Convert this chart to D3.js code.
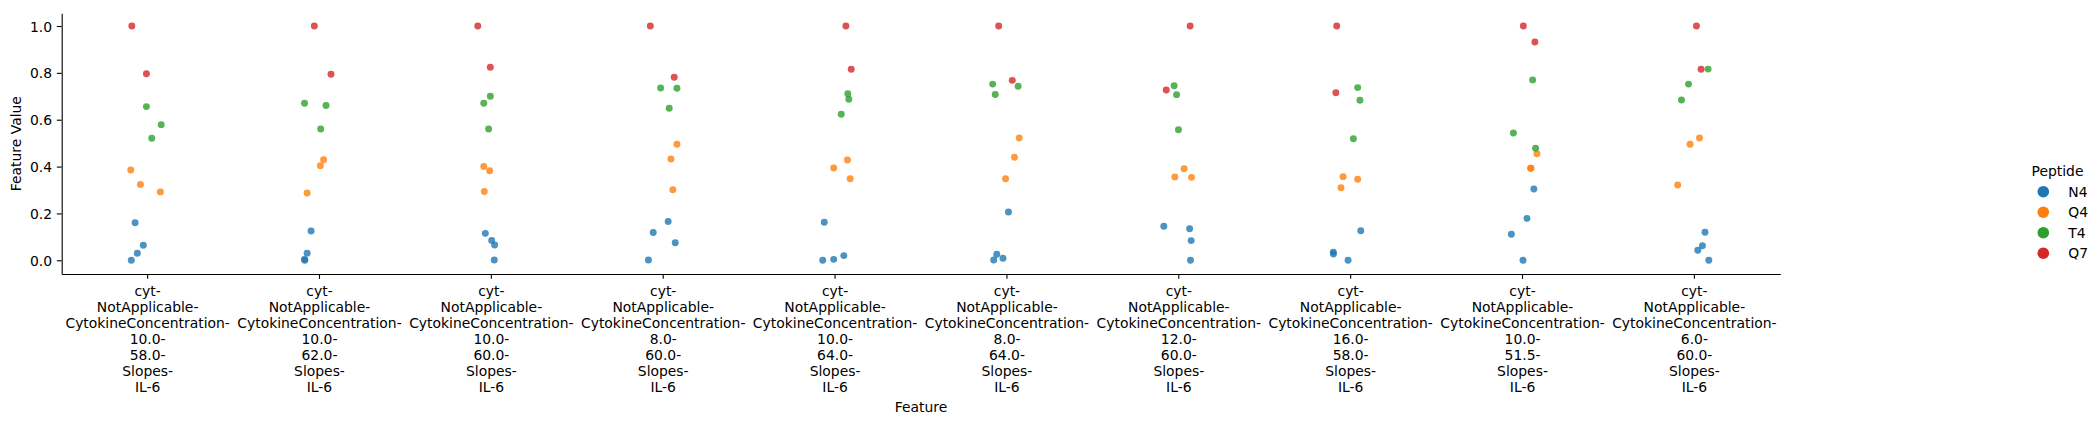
<!DOCTYPE html>
<html><head><meta charset="utf-8">
<script src="https://cdn.jsdelivr.net/npm/d3@7"></script>
<style>
body{margin:0;background:#fff}
svg text{font-family:"DejaVu Sans",sans-serif;}
</style>
</head><body>
<svg id="chart" width="2100" height="424"></svg>
<script>
// ---- data ----
const categories = [
  "cyt-\nNotApplicable-\nCytokineConcentration-\n10.0-\n58.0-\nSlopes-\nIL-6",
  "cyt-\nNotApplicable-\nCytokineConcentration-\n10.0-\n62.0-\nSlopes-\nIL-6",
  "cyt-\nNotApplicable-\nCytokineConcentration-\n10.0-\n60.0-\nSlopes-\nIL-6",
  "cyt-\nNotApplicable-\nCytokineConcentration-\n8.0-\n60.0-\nSlopes-\nIL-6",
  "cyt-\nNotApplicable-\nCytokineConcentration-\n10.0-\n64.0-\nSlopes-\nIL-6",
  "cyt-\nNotApplicable-\nCytokineConcentration-\n8.0-\n64.0-\nSlopes-\nIL-6",
  "cyt-\nNotApplicable-\nCytokineConcentration-\n12.0-\n60.0-\nSlopes-\nIL-6",
  "cyt-\nNotApplicable-\nCytokineConcentration-\n16.0-\n58.0-\nSlopes-\nIL-6",
  "cyt-\nNotApplicable-\nCytokineConcentration-\n10.0-\n51.5-\nSlopes-\nIL-6",
  "cyt-\nNotApplicable-\nCytokineConcentration-\n6.0-\n60.0-\nSlopes-\nIL-6"
];
const peptides = ["N4", "Q4", "T4", "Q7"];
const yTicks = [0.0, 0.2, 0.4, 0.6, 0.8, 1.0];

// values per category for each peptide
const valuesN4 = [
  [0.160, 0.064, 0.030, 0.000], [0.125, 0.030, 0.004, 0.000], [0.115, 0.085, 0.065, 0.001],
  [0.166, 0.119, 0.075, 0.001], [0.162, 0.020, 0.004, 0.000], [0.206, 0.026, 0.009, 0.001],
  [0.145, 0.135, 0.084, 0.000], [0.126, 0.035, 0.027, 0.000], [0.304, 0.179, 0.111, 0.000],
  [0.120, 0.062, 0.043, 0.000]
];
const valuesQ4 = [
  [0.385, 0.324, 0.292], [0.429, 0.404, 0.287], [0.400, 0.382, 0.294], [0.495, 0.432, 0.301],
  [0.428, 0.394, 0.348], [0.522, 0.440, 0.348], [0.391, 0.356, 0.354], [0.357, 0.346, 0.310],
  [0.455, 0.393, 0.393], [0.522, 0.495, 0.321]
];
const valuesT4 = [
  [0.656, 0.579, 0.521], [0.670, 0.661, 0.560], [0.700, 0.670, 0.560], [0.735, 0.734, 0.649],
  [0.711, 0.687, 0.623], [0.752, 0.743, 0.708], [0.745, 0.707, 0.557], [0.737, 0.683, 0.519],
  [0.770, 0.543, 0.478], [0.816, 0.752, 0.684]
];
const valuesQ7 = [
  [1.0, 0.796], [1.0, 0.794], [1.0, 0.824], [1.0, 0.781], [1.0, 0.815],
  [1.0, 0.768], [1.0, 0.727], [1.0, 0.715], [1.0, 0.932], [1.0, 0.815]
];
// strip jitter offsets (fraction of category width)
const jitterN4 = [
  [-0.073, -0.025, -0.060, -0.095], [-0.049, -0.072, -0.088, -0.085], [-0.035, 0.002, 0.019, 0.017],
  [0.029, -0.058, 0.070, -0.086], [-0.063, 0.051, -0.008, -0.072], [0.009, -0.059, -0.023, -0.077],
  [-0.087, 0.063, 0.072, 0.068], [0.059, -0.101, -0.100, -0.015], [0.066, 0.026, -0.065, 0.003],
  [0.062, 0.047, 0.020, 0.084]
];
const jitterQ4 = [
  [-0.098, -0.042, 0.074], [0.024, 0.005, -0.072], [-0.044, -0.010, -0.041], [0.080, 0.045, 0.056],
  [0.072, -0.008, 0.088], [0.071, 0.044, -0.008], [0.031, -0.023, 0.074], [-0.044, 0.041, -0.056],
  [0.084, 0.049, 0.047], [0.030, -0.025, -0.097]
];
const jitterT4 = [
  [-0.007, 0.079, 0.024], [-0.087, 0.038, 0.007], [-0.006, -0.044, -0.016], [-0.015, 0.080, 0.035],
  [0.074, 0.080, 0.036], [-0.083, 0.065, -0.068], [-0.027, -0.013, -0.002], [0.041, 0.054, 0.016],
  [0.059, -0.053, 0.076], [0.080, -0.034, -0.075]
];
const jitterQ7 = [
  [-0.092, -0.007], [-0.030, 0.067], [-0.079, -0.006], [-0.075, 0.064], [0.063, 0.094],
  [-0.048, 0.031], [0.066, -0.073], [-0.081, -0.086], [0.005, 0.072], [0.012, 0.039]
];

const palette = ["#1f77b4", "#ff7f0e", "#2ca02c", "#d62728"];

// ---- layout ----
const FS = 13.9;
const plot = {left: 61.7, right: 1780.3, top: 13.3, bottom: 274};
const svg = d3.select("#chart");
svg.append("rect").attr("width", 2100).attr("height", 424).attr("fill", "#fff");

const x = d3.scaleBand().domain(d3.range(categories.length)).range([plot.left, plot.right]).padding(0);
const y = d3.scaleLinear().domain([-0.05847, 1.05420]).range([plot.bottom, plot.top]);
const color = d3.scaleOrdinal().domain(peptides).range(palette);

const allValues = [valuesN4, valuesQ4, valuesT4, valuesQ7];
const allJitter = [jitterN4, jitterQ4, jitterT4, jitterQ7];
const points = [];
categories.forEach((c, ci) => {
  peptides.forEach((p, pi) => {
    allValues[pi][ci].forEach((v, k) => {
      points.push({cat: ci, pep: p, v: v, j: allJitter[pi][ci][k]});
    });
  });
});

// points
svg.append("g").selectAll("circle").data(points).join("circle")
  .attr("cx", d => x(d.cat) + x.bandwidth() / 2 + d.j * x.bandwidth())
  .attr("cy", d => y(d.v))
  .attr("r", 3.47)
  .attr("fill", d => color(d.pep))
  .attr("fill-opacity", 0.8);

// y axis
const gy = svg.append("g").attr("transform", `translate(${plot.left},0)`)
  .call(d3.axisLeft(y).tickValues(yTicks).tickFormat(d3.format(".1f"))
    .tickSize(4.86).tickPadding(4.86).tickSizeOuter(0));
gy.attr("font-family", null).attr("font-size", null);
gy.selectAll("path.domain").attr("stroke", "#000").attr("stroke-width", 1.11);
gy.selectAll(".tick line").attr("stroke", "#000").attr("stroke-width", 1.11);
gy.selectAll(".tick text").attr("font-size", FS).attr("fill", "#000").attr("dy", "0.36em");

// x axis
const gx = svg.append("g").attr("transform", `translate(0,${plot.bottom})`)
  .call(d3.axisBottom(x).tickSize(4.86).tickSizeOuter(0).tickFormat(i => categories[i]));
gx.attr("font-family", null).attr("font-size", null);
gx.selectAll("path.domain").attr("stroke", "#000").attr("stroke-width", 1.11);
gx.selectAll(".tick line").attr("stroke", "#000").attr("stroke-width", 1.11);
gx.selectAll(".tick text").each(function(i) {
  const t = d3.select(this);
  t.text(null).attr("dy", null).attr("y", null).attr("font-size", FS).attr("fill", "#000");
  categories[i].split("\n").forEach((line, k) => {
    t.append("tspan").attr("x", 0).attr("y", 21.7 + 16.1 * k).text(line);
  });
});

// axis titles
svg.append("text").attr("x", (plot.left + plot.right) / 2).attr("y", 411.7)
  .attr("text-anchor", "middle").attr("font-size", FS).attr("fill", "#000").text("Feature");
svg.append("text").attr("transform", `translate(21,${(plot.top + plot.bottom) / 2}) rotate(-90)`)
  .attr("text-anchor", "middle").attr("font-size", FS).attr("fill", "#000").text("Feature Value");

// legend
const lg = svg.append("g");
lg.append("text").attr("x", 2057.5).attr("y", 175.5).attr("text-anchor", "middle")
  .attr("font-size", FS).attr("fill", "#000").text("Peptide");
peptides.forEach((p, i) => {
  const cy = 191.7 + 20.5 * i;
  lg.append("circle").attr("cx", 2043.3).attr("cy", cy).attr("r", 5.8).attr("fill", color(p));
  lg.append("text").attr("x", 2068.3).attr("y", cy + 5).attr("font-size", FS).attr("fill", "#000").text(p);
});
</script>
</body></html>
